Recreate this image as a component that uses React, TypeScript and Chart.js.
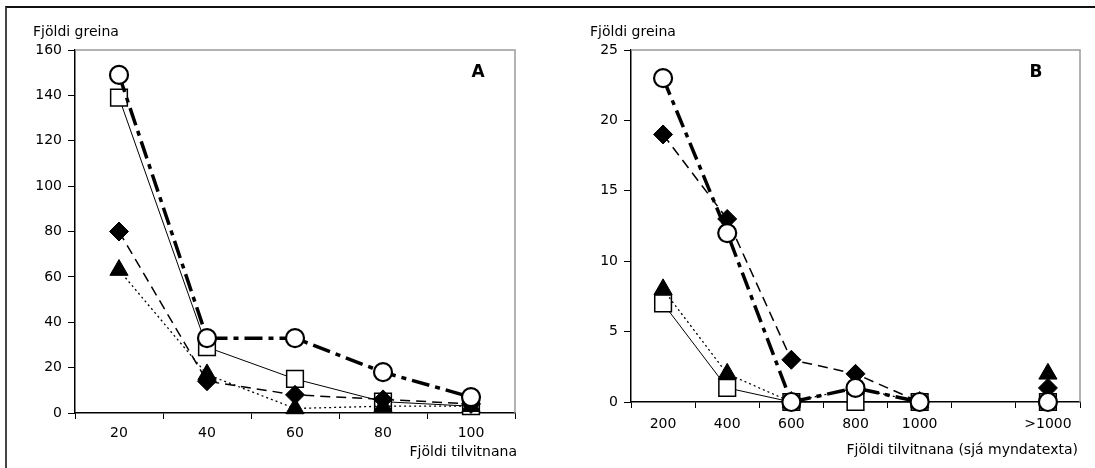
import React, { useEffect, useRef } from 'react';
import { Chart, registerables } from 'chart.js';
Chart.register(...registerables);

// Panel A
const catsA = ['20', '40', '60', '80', '100'];
const aCircle = [149, 33, 33, 18, 7];
const aSquare = [139, 29, 15, 5, 3];
const aDiamond = [80, 14, 8, 6, 4];
const aTriangle = [63, 17, 2, 3, 3];

// Panel B
const catsB = ['200', '400', '600', '800', '1000', '', '>1000'];
const bCircle = [23, 12, 0, 1, 0, null, 0];
const bSquare = [7, 1, 0, 0, 0, null, 0];
const bDiamond = [19, 13, 3, 2, 0, null, 1];
const bTriangle = [8, 2, 0, 1, 0, null, 2];

const yTitle = 'Fjöldi greina';
const xTitleA = 'Fjöldi tilvitnana';
const xTitleB = 'Fjöldi tilvitnana (sjá myndatexta)';

const FONT = 'DejaVu Sans';

function datasets(circle: any[], square: any[], diamond: any[], triangle: any[]) {
  return [
    {
      label: 'circle', data: circle, order: 0,
      borderColor: '#000', borderWidth: 3.5, borderDash: [18, 6, 5, 6],
      pointStyle: 'circle', pointRadius: 9, pointBorderWidth: 2.2,
      pointBackgroundColor: '#fff', pointBorderColor: '#000',
    },
    {
      label: 'triangle', data: triangle, order: 1,
      borderColor: '#000', borderWidth: 1.3, borderDash: [2, 3],
      pointStyle: 'triangle', pointRadius: 10.5, pointBorderWidth: 1,
      pointBackgroundColor: '#000', pointBorderColor: '#000',
    },
    {
      label: 'diamond', data: diamond, order: 2,
      borderColor: '#000', borderWidth: 1.5, borderDash: [10, 6],
      pointStyle: 'rectRot', pointRadius: 9.5, pointBorderWidth: 1,
      pointBackgroundColor: '#000', pointBorderColor: '#000',
    },
    {
      label: 'square', data: square, order: 3,
      borderColor: '#000', borderWidth: 1, borderDash: [],
      pointStyle: 'rect', pointRadius: 11.8, pointBorderWidth: 1.5,
      pointBackgroundColor: '#fff', pointBorderColor: '#000',
    },
  ].map((d) => ({ ...d, fill: false, tension: 0, clip: false, spanGaps: false }));
}

function decor(o: { yx: number; yy: number; letter: string; lx: number; ly: number; xt: string; xr: number; xy: number }) {
  return {
    id: 'decor',
    beforeDatasetsDraw(chart: any) {
      const { ctx, chartArea: ca } = chart;
      ctx.save();
      ctx.strokeStyle = '#9a9a9a';
      ctx.lineWidth = 1.5;
      ctx.beginPath();
      ctx.moveTo(ca.left, ca.top);
      ctx.lineTo(ca.right, ca.top);
      ctx.lineTo(ca.right, ca.bottom);
      ctx.stroke();
      ctx.restore();
    },
    afterDraw(chart: any) {
      const { ctx } = chart;
      ctx.save();
      ctx.fillStyle = '#000';
      ctx.textBaseline = 'middle';
      ctx.font = `14px "${FONT}"`;
      ctx.textAlign = 'left';
      ctx.fillText(yTitle, o.yx, o.yy);
      ctx.textAlign = 'right';
      ctx.fillText(o.xt, o.xr, o.xy);
      ctx.font = `bold 17px "${FONT}"`;
      ctx.textAlign = 'center';
      ctx.fillText(o.letter, o.lx, o.ly);
      ctx.restore();
    },
  };
}

function makeChart(
  canvas: HTMLCanvasElement,
  cats: string[],
  ds: any[],
  yMax: number,
  yStep: number,
  yWidth: number,
  xHeight: number,
  padRight: number,
  xPad: number,
  plug: any
) {
  return new Chart(canvas, {
    type: 'line',
    data: { labels: cats, datasets: ds },
    plugins: [plug],
    options: {
      animation: false,
      responsive: false,
      maintainAspectRatio: false,
      layout: { padding: { left: 0, top: 50, right: padRight, bottom: 0 } },
      plugins: { legend: { display: false }, tooltip: { enabled: false }, title: { display: false } },
      scales: {
        x: {
          type: 'category',
          offset: true,
          grid: { offset: true, drawOnChartArea: false, drawTicks: true, tickLength: 6, color: '#000', lineWidth: 1 },
          border: { display: true, color: '#000', width: 1.5 },
          ticks: { color: '#000', font: { family: FONT, size: 14 }, padding: xPad, maxRotation: 0, autoSkip: false },
          afterFit: (s: any) => { s.height = xHeight; },
        },
        y: {
          min: 0,
          max: yMax,
          grid: { drawOnChartArea: false, drawTicks: true, tickLength: 7, color: '#000', lineWidth: 1 },
          border: { display: true, color: '#000', width: 1.5 },
          ticks: { stepSize: yStep, color: '#000', font: { family: FONT, size: 14 }, padding: 6 },
          afterFit: (s: any) => { s.width = yWidth; },
        },
      },
    } as any,
  });
}

export default function App() {
  const refA = useRef<HTMLCanvasElement>(null);
  const refB = useRef<HTMLCanvasElement>(null);

  useEffect(() => {
    Chart.defaults.font.family = FONT;
    const a = makeChart(
      refA.current!, catsA, datasets(aCircle, aSquare, aDiamond, aTriangle),
      160, 20, 75, 55, 30, 6,
      decor({ yx: 33, yy: 32, letter: 'A', lx: 478, ly: 73, xt: xTitleA, xr: 517, xy: 452 })
    );
    const b = makeChart(
      refB.current!, catsB, datasets(bCircle, bSquare, bDiamond, bTriangle),
      25, 5, 86, 66, 15, 8,
      decor({ yx: 45, yy: 32, letter: 'B', lx: 491, ly: 73, xt: xTitleB, xr: 533, xy: 450 })
    );
    return () => { a.destroy(); b.destroy(); };
  }, []);

  return (
    <div style={{ position: 'absolute', left: 0, top: 0, width: 1095, height: 468, overflow: 'hidden', background: '#fff' }}>
      <div style={{ position: 'absolute', left: 5, top: 6, width: 1100, height: 470, borderTop: '2px solid #111', borderLeft: '2px solid #444' }} />
      <canvas ref={refA} width={545} height={468} style={{ position: 'absolute', left: 0, top: 0, width: 545, height: 468 }} />
      <canvas ref={refB} width={550} height={468} style={{ position: 'absolute', left: 545, top: 0, width: 550, height: 468 }} />
    </div>
  );
}
